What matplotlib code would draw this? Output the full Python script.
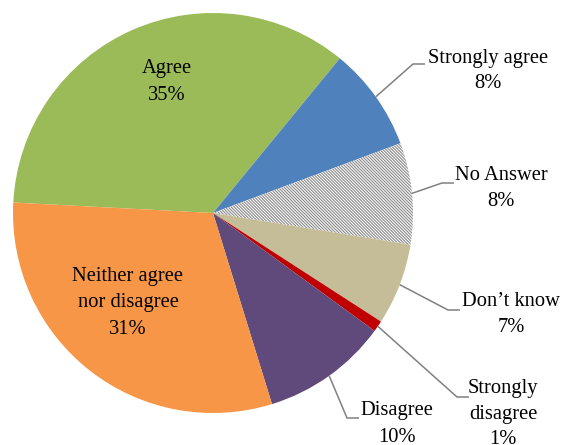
import numpy as np
import matplotlib
matplotlib.use("Agg")
import matplotlib.pyplot as plt

plt.rcParams['font.family'] = ['Liberation Serif', 'DejaVu Serif']
plt.rcParams['hatch.linewidth'] = 0.8

# data, clockwise from the left edge of the pie
labels = ["Agree", "Strongly agree", "No Answer", "Don\u2019t know",
          "Strongly disagree", "Disagree", "Neither agree nor disagree"]
text_labels = ["Agree", "Strongly agree", "No Answer", "Don\u2019t know",
               "Strongly\ndisagree", "Disagree", "Neither agree\nnor disagree"]
values = [35.1, 8.4, 8.2, 6.6, 0.9, 10.2, 30.6]
colors = ["#9BBB59", "#4F81BD", "white", "#C4BD97", "#C00000", "#604A7B", "#F79646"]

W, H = 563, 445
fig = plt.figure(figsize=(W / 100, H / 100), dpi=100)
ax = fig.add_axes([0, 0, 1, 1])

cx, cy, r = 213, H - 213, 200
wedges, _ = ax.pie(values, colors=colors, startangle=177, counterclock=False,
                   center=(cx, cy), radius=r, frame=True,
                   wedgeprops=dict(linewidth=0))
wedges[2].set_hatch("\\" * 11)
wedges[2].set_edgecolor("#8a8a8a")
wedges[2].set_linewidth(0)

ax.set_xlim(0, W)
ax.set_ylim(0, H)
ax.set_aspect("auto")
ax.axis("off")

pcts = ["%.0f%%" % v for v in values]
fs = 14.8

# labels inside the pie (pixel positions from top-left)
inside = {0: (167, 82), 6: (128, 303)}
for i, (px, py) in inside.items():
    ax.text(px, H - py, text_labels[i] + "\n" + pcts[i], ha="center", va="center",
            fontsize=fs, linespacing=1.5, color="black")

# labels outside with leader lines: (text center, elbow point)
outside = {
    1: ((488, 71), (413, 64)),
    2: ((501, 189), (442, 183)),
    3: ((511, 315), (448, 310)),
    4: ((503, 414), (457, 397)),
    5: ((397, 424), (347, 418)),
}
for i, ((tx, ty), (ex, ey)) in outside.items():
    w = wedges[i]
    mid = np.deg2rad((w.theta1 + w.theta2) / 2)
    sx, sy = cx + r * np.cos(mid), cy + r * np.sin(mid)
    ax.plot([sx, ex, ex + 12], [sy, H - ey, H - ey], color="#808080", lw=1.1,
            solid_capstyle="butt")
    ax.text(tx, H - ty, text_labels[i] + "\n" + pcts[i], ha="center", va="center",
            fontsize=fs, linespacing=1.5, color="black")

fig.savefig("out.png", dpi=100)
